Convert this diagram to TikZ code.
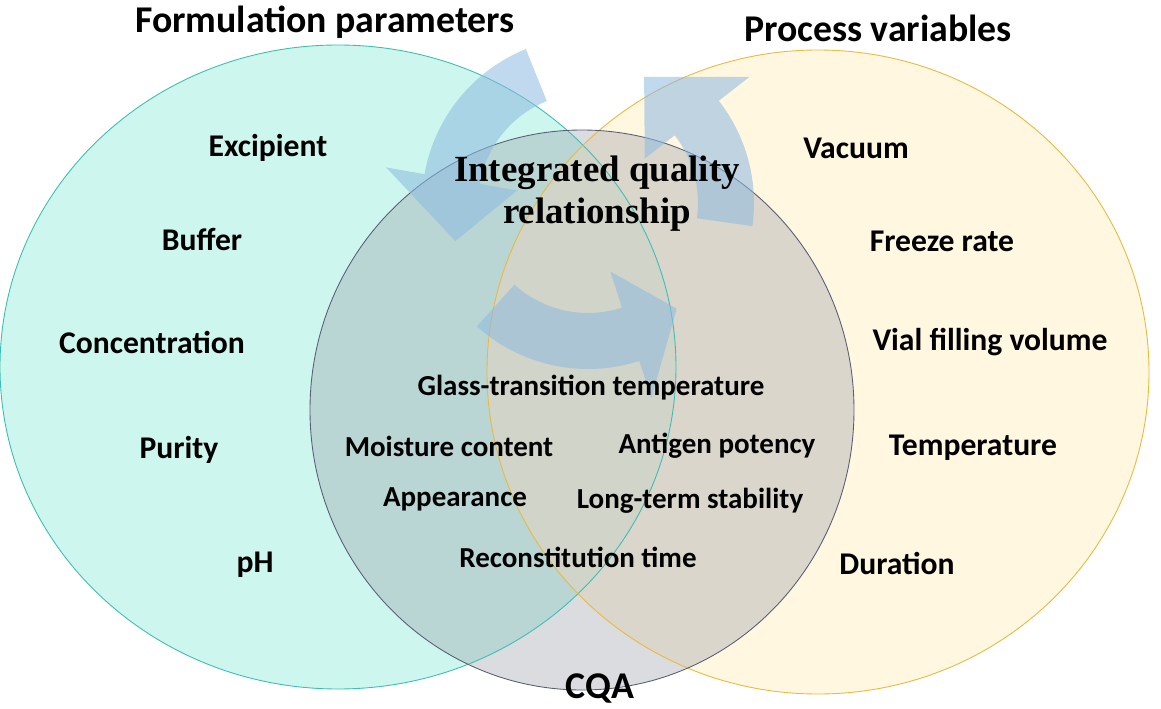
\documentclass[tikz,border=0pt]{standalone}
\usepackage{fontspec}
\setmainfont{Carlito}
\newfontfamily\titlefont{Liberation Serif}
\usetikzlibrary{calc}
\definecolor{formcyan}{RGB}{205,246,238}
\definecolor{formedge}{RGB}{60,190,180}
\definecolor{procyellow}{RGB}{255,244,214}
\definecolor{procedge}{RGB}{235,185,60}
\definecolor{cqagray}{RGB}{150,155,165}
\definecolor{cqaedge}{RGB}{90,95,120}
\definecolor{cycleblue}{RGB}{140,185,225}
% curved band arrow around (C): start angle, end of band, tip angle
\newcommand{\cyclearrow}[3]{%
  \fill[cycle] ($(C)+(#1:166)$) arc[start angle=#1, end angle=#2, radius=166]
    -- ($(C)+(#2:205)$) -- ($(C)+(#3:138)$) -- ($(C)+(#2:72)$)
    -- ($(C)+(#2:110)$) arc[start angle=#2, end angle=#1, radius=110] -- cycle;}
\begin{document}
\begin{tikzpicture}[x=0.02cm, y=0.02cm,
  group/.style={font=\fontsize{21.5}{24}\selectfont\bfseries},
  item/.style={font=\fontsize{18}{20}\selectfont\bfseries},
  cqa/.style={font=\fontsize{16.5}{18}\selectfont\bfseries},
  cycle/.style={fill=cycleblue, fill opacity=0.55}]
\useasboundingbox (0,0) rectangle (1161,708);

% sets
\fill[formcyan] (338,341) ellipse [x radius=338, y radius=322];
\fill[procyellow, fill opacity=0.75] (818,336) ellipse [x radius=331, y radius=322];
\fill[cqagray, fill opacity=0.35] (582,298) ellipse [x radius=272, y radius=280];
\draw[formedge, line width=0.5pt] (338,341) ellipse [x radius=338, y radius=322];
\draw[procedge, line width=0.5pt] (818,336) ellipse [x radius=331, y radius=322];
\draw[cqaedge, line width=0.5pt] (582,298) ellipse [x radius=272, y radius=280];

% cycle arrows
\coordinate (C) at (588,505);
\cyclearrow{112}{170}{196}
\cyclearrow{228}{288}{310}
\cyclearrow{-8}{38}{66}

\node[font=\titlefont\fontsize{21}{24}\selectfont\bfseries, align=center] (iqr) at (597,514)
  {Integrated quality\\relationship};

% headers
\node[group] (form) at (325,686) {Formulation parameters};
\node[group] (proc) at (878,680) {Process variables};
\node[group] (cqa) at (600,20) {CQA};

% formulation parameters
\node[item] (exc) at (268,560) {Excipient};
\node[item] (buf) at (202,468) {Buffer};
\node[item] (con) at (152,366) {Concentration};
\node[item] (pur) at (179,258) {Purity};
\node[item] (ph)  at (255,143) {pH};

% process variables
\node[item] (vac) at (856,560) {Vacuum};
\node[item] (frz) at (942,467) {Freeze rate};
\node[item] (vfv) at (990,366) {Vial filling volume};
\node[item] (tmp) at (973,260) {Temperature};
\node[item] (dur) at (897,145) {Duration};

% critical quality attributes
\node[cqa] (tg)  at (591,320) {Glass-transition temperature};
\node[cqa] (moi) at (449,262) {Moisture content};
\node[cqa] (pot) at (717,262) {Antigen potency};
\node[cqa] (app) at (455,209) {Appearance};
\node[cqa] (lts) at (690,207) {Long-term stability};
\node[cqa] (rec) at (578,151) {Reconstitution time};
\end{tikzpicture}
\end{document}
